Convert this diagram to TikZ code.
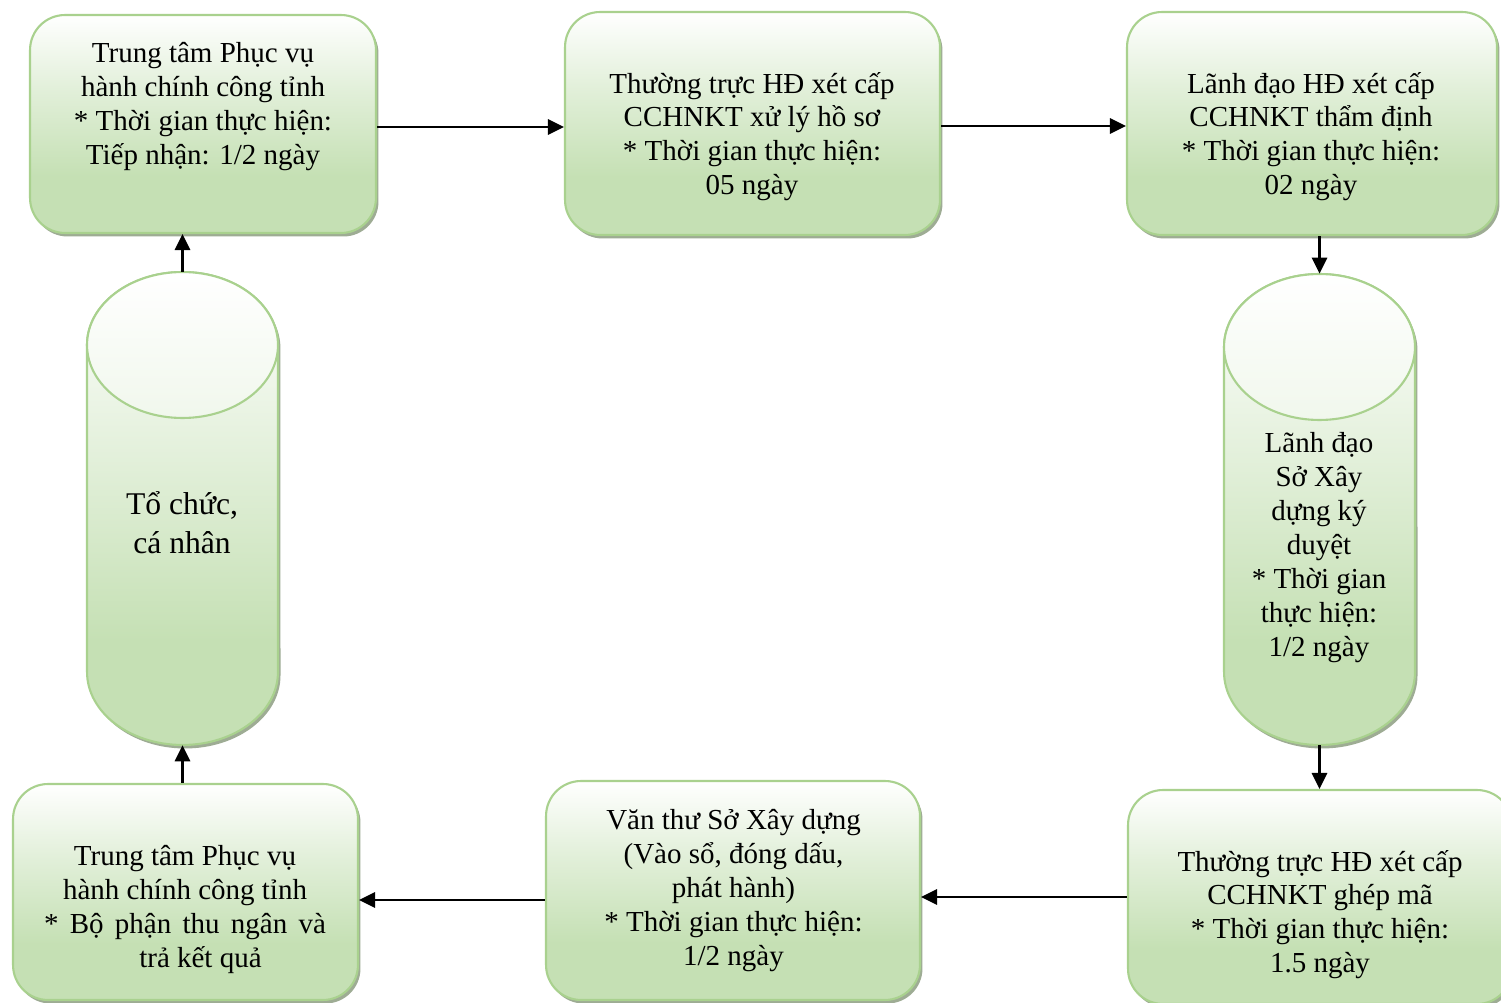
\documentclass[tikz,border=0pt]{standalone}
\usepackage{fontspec}
\setmainfont{Liberation Serif}
\usetikzlibrary{arrows.meta,shadows,calc}
\definecolor{gfill}{RGB}{197,224,180}
\definecolor{gline}{RGB}{169,209,142}
\definecolor{gshadow}{RGB}{158,172,148}
\colorlet{gmid}{gfill!50!white}
\colorlet{gpale}{gfill!25!white}
\pgfdeclareverticalshading{gshade}{100bp}{color(0bp)=(gfill); color(25bp)=(gfill); color(38bp)=(gfill); color(58bp)=(gmid); color(75bp)=(white); color(100bp)=(white)}
\pgfdeclareverticalshading{cshade}{100bp}{color(0bp)=(gfill); color(25bp)=(gfill); color(36bp)=(gfill); color(55bp)=(gmid); color(75bp)=(white); color(100bp)=(white)}
\pgfdeclareverticalshading{eshade}{100bp}{color(0bp)=(gpale); color(25bp)=(gpale); color(75bp)=(white); color(100bp)=(white)}
\tikzset{
  box/.style={draw=gline, line width=1.2pt, rounded corners=0.7cm, shading=gshade, shade,
    drop shadow={shadow xshift=0.05cm, shadow yshift=-0.07cm, fill=gshadow, opacity=1}, inner sep=0},
  txt/.style={align=center, font=\fontsize{16.5}{19.3}\selectfont, inner sep=0},
  bigtxt/.style={align=center, font=\fontsize{18}{22.2}\selectfont, inner sep=0},
  ghost/.style={inner sep=0, draw=none},
  arr/.style={line width=1.6pt, -{Triangle[length=0.32cm,width=0.3cm]}},
  cylbody/.style={draw=gline, line width=1.2pt, shading=cshade, shade},
  cyltop/.style={draw=gline, line width=1.2pt, shading=eshade, shade},
  cylshadow/.style={fill=gshadow},
}
\newcommand{\mycyl}[3]{%
  \path[cylshadow, xshift=0.05cm, yshift=-0.07cm] (#1-95.5,#2+73) arc[start angle=180,end angle=0,x radius=1.91cm,y radius=1.46cm]
     -- (#1+95.5,#3-73) arc[start angle=0,end angle=-180,x radius=1.91cm,y radius=1.46cm] -- cycle;
  \path[cylbody] (#1-95.5,#2+73) arc[start angle=180,end angle=0,x radius=1.91cm,y radius=1.46cm]
     -- (#1+95.5,#3-73) arc[start angle=0,end angle=-180,x radius=1.91cm,y radius=1.46cm] -- cycle;
  \path[cyltop] (#1,#2+73) ellipse[x radius=1.91cm, y radius=1.46cm];
}
\begin{document}
\begin{tikzpicture}[x=0.02cm, y=-0.02cm]
\useasboundingbox (0,0) rectangle (1501,1003);
\clip (0,0) rectangle (1501,1003);
\fill[white] (0,0) rectangle (1501,1003);

% boxes
\node[box, minimum width=6.92cm, minimum height=4.36cm] (A) at (203,124) {};
\node[box, minimum width=7.5cm, minimum height=4.46cm] (B) at (752.5,123.5) {};
\node[box, minimum width=7.4cm, minimum height=4.46cm] (C) at (1312,123.5) {};
\node[box, minimum width=7.68cm, minimum height=4.28cm] (D) at (1320,897) {};
\node[box, minimum width=7.48cm, minimum height=4.38cm] (E) at (733,890.5) {};
\node[box, minimum width=6.9cm, minimum height=4.32cm] (F) at (185.5,892) {};

% cylinders
\mycyl{182.5}{272}{745}
\mycyl{1319.5}{274}{745}
\node[ghost, minimum width=3.82cm, minimum height=9.46cm] (L) at (182.5,508.5) {};
\node[ghost, minimum width=3.82cm, minimum height=9.42cm] (R) at (1319.5,509.5) {};

% texts
\node[txt] (At) at (203,106.5) {Trung tâm Phục vụ\\hành chính công tỉnh\\* Thời gian thực hiện:\\Tiếp nhận: 1/2 ngày};
\node[txt] (Bt) at (752,136.5) {Thường trực HĐ xét cấp\\CCHNKT xử lý hồ sơ\\* Thời gian thực hiện:\\05 ngày};
\node[txt] (Ct) at (1311,136.5) {Lãnh đạo HĐ xét cấp\\CCHNKT thẩm định\\* Thời gian thực hiện:\\02 ngày};
\node[txt] (Rt) at (1319,547.5) {Lãnh đạo\\Sở Xây\\dựng ký\\duyệt\\* Thời gian\\thực hiện:\\1/2 ngày};
\node[bigtxt] (Lt) at (182,522.5) {Tổ chức,\\cá nhân};
\node[txt] (Dt) at (1320,914.5) {Thường trực HĐ xét cấp\\CCHNKT ghép mã\\* Thời gian thực hiện:\\1.5 ngày};
\node[txt] (Et) at (733.5,890.5) {Văn thư Sở Xây dựng\\(Vào sổ, đóng dấu,\\phát hành)\\* Thời gian thực hiện:\\1/2 ngày};
\node[txt] (Ft) at (185,909.5) {Trung tâm Phục vụ\\hành chính công tỉnh\\\makebox[5.64cm][s]{* Bộ phận thu ngân và}\\\hspace*{0.62cm}trả kết quả};

% connectors
\draw[arr] ([yshift=-0.06cm]A.east) -- ([yshift=-0.06cm]A.east -| B.west);
\draw[arr] ([yshift=-0.05cm]B.east) -- ([yshift=-0.05cm]B.east -| C.west);
\draw[arr] (R.north |- C.south) -- (R.north);
\draw[arr] (R.south) -- (R.south |- D.north);
\draw[arr] (D.west) -- (D.west -| E.east);
\coordinate (ef) at ([yshift=-0.19cm]E.west);
\draw[arr] (ef) -- (ef -| F.east);
\draw[arr] (L.south |- F.north) -- (L.south);
\draw[arr] (L.north) -- (L.north |- A.south);
\end{tikzpicture}
\end{document}
